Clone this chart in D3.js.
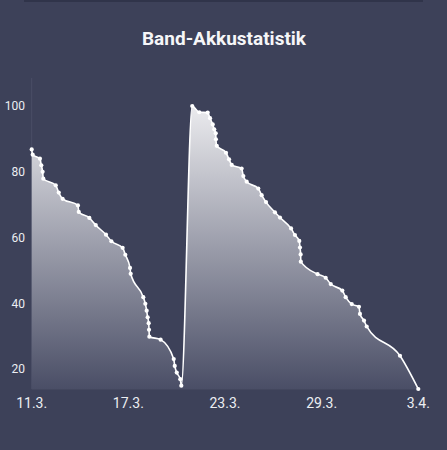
<!DOCTYPE html>
<html>
<head>
<meta charset="utf-8">
<script src="https://cdn.jsdelivr.net/npm/d3@7"></script>
<style>
  html, body { margin: 0; padding: 0; background: #3d4159; }
  svg { display: block; font-family: Roboto, "Noto Sans", sans-serif; }
</style>
</head>
<body>
<svg id="chart" width="447" height="450"></svg>
<script>
// days since 11.3. and battery level in %
let days = [0, 0.06, 0.49, 0.57, 0.65, 0.69, 1.43, 1.61, 1.84, 2.75, 2.80, 3.43, 3.81, 4.42, 4.74, 5.41, 5.57, 5.85, 5.89,
    6.64, 6.76, 6.84, 6.90, 6.96, 6.98, 7.00, 7.67, 8.45, 8.51, 8.63, 8.84, 8.90,
    9.55, 9.97, 10.47, 10.61, 10.77, 10.86, 10.95, 10.96, 11.01, 11.56, 11.74, 11.90, 12.49, 12.59, 12.79,
    13.48, 13.68, 13.94, 14.47, 14.77, 15.43, 15.66, 15.92, 15.96, 16.00, 16.01, 17.01, 17.49, 17.79,
    18.48, 18.68, 19.04, 19.47, 19.53, 19.77, 19.93, 21.91, 23.00];
let levels = [86.8, 85.2, 84.0, 82.0, 80.0, 77.9, 75.9, 73.7, 71.8, 69.8, 67.8, 66.0, 63.8, 60.9, 58.9, 56.9, 54.8, 50.8, 49.0,
    41.9, 39.9, 37.8, 35.8, 34.0, 32.0, 29.9, 29.0, 23.1, 21.0, 19.0, 17.0, 15.0,
    100, 98.1, 98.0, 96.3, 94.4, 92.9, 91.7, 89.9, 87.9, 85.8, 83.8, 82.1, 81.0, 78.7, 77.0,
    74.9, 72.9, 70.8, 67.7, 66.1, 62.8, 60.8, 59.0, 57.0, 54.9, 52.7, 48.9, 47.8, 45.9,
    43.9, 41.9, 39.8, 39.0, 36.8, 34.8, 33.0, 24.1, 14.0];
let yTicks = [20, 40, 60, 80, 100];
let xTickLabels = ['11.3.', '17.3.', '23.3.', '29.3.', '3.4.'];
let title = 'Band-Akkustatistik';

let data = days.map((d, i) => ({ day: d, level: levels[i] }));

let svg = d3.select('#chart');
let plotLeft = 31.7, plotRight = 418.3, plotTop = 106, plotBottom = 389;

let x = d3.scaleLinear().domain(d3.extent(days)).range([plotLeft, plotRight]);
let y = d3.scaleLinear().domain([100, 14]).range([plotTop, plotBottom]);

// darker strip at the very top
svg.append('rect').attr('x', 24).attr('y', 0).attr('width', 399).attr('height', 2).style('fill', '#30344a');

svg.append('text')
    .attr('x', 224)
    .attr('y', 45)
    .attr('text-anchor', 'middle')
    .style('font-size', '19px')
    .style('font-weight', 'bold')
    .style('fill', '#f6f6f8')
    .text(title);

// faint frame lines
svg.append('line').attr('x1', plotLeft).attr('x2', plotLeft).attr('y1', 78).attr('y2', plotBottom)
    .style('stroke', '#4a4e65').style('stroke-width', 1);
svg.append('line').attr('x1', plotLeft).attr('x2', plotRight).attr('y1', plotBottom).attr('y2', plotBottom)
    .style('stroke', '#4a4e65').style('stroke-width', 1);

let grad = svg.append('defs').append('linearGradient')
    .attr('id', 'fade')
    .attr('gradientUnits', 'userSpaceOnUse')
    .attr('x1', 0).attr('x2', 0)
    .attr('y1', y(100)).attr('y2', y(14));
grad.append('stop').attr('offset', '0%').attr('stop-color', '#ebebee');
grad.append('stop').attr('offset', '100%').attr('stop-color', '#4a4e66');

let curve = d3.curveMonotoneX;
svg.append('path')
    .attr('d', d3.area().x(d => x(d.day)).y0(plotBottom).y1(d => y(d.level)).curve(curve)(data))
    .style('fill', 'url(#fade)');
svg.append('path')
    .attr('d', d3.line().x(d => x(d.day)).y(d => y(d.level)).curve(curve)(data))
    .style('fill', 'none')
    .style('stroke', '#ffffff')
    .style('stroke-width', 1.6);
svg.append('g').selectAll('circle').data(data).join('circle')
    .attr('cx', d => x(d.day))
    .attr('cy', d => y(d.level))
    .attr('r', 2.1)
    .style('fill', '#ffffff');

// y axis labels
svg.append('g').selectAll('text').data(yTicks).join('text')
    .attr('x', 25)
    .attr('y', d => y(d))
    .attr('dy', '0.35em')
    .attr('text-anchor', 'end')
    .style('font-size', '12px')
    .style('fill', '#eceef2')
    .text(d => d);

// x axis labels, spread evenly over the data range
let xStep = (d3.max(days) - d3.min(days)) / (xTickLabels.length - 1);
svg.append('g').selectAll('text').data(xTickLabels).join('text')
    .attr('x', (d, i) => x(d3.min(days) + i * xStep))
    .attr('y', 408)
    .attr('text-anchor', 'middle')
    .style('font-size', '14px')
    .style('fill', '#eceef2')
    .text(d => d);
</script>
</body>
</html>
